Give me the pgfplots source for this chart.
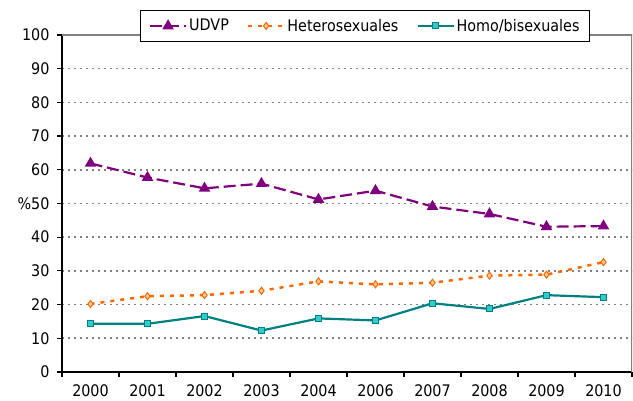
\documentclass[border=0pt]{standalone}
\usepackage{fontspec}
\setmainfont{DejaVu Sans Condensed}
\usepackage{pgfplots}
\pgfplotsset{compat=1.18}
\usetikzlibrary{calc}
\definecolor{udvp}{RGB}{128,0,128}
\definecolor{het}{RGB}{255,102,0}
\definecolor{hetfill}{RGB}{255,204,153}
\definecolor{homo}{RGB}{0,128,128}
\definecolor{homofill}{RGB}{51,204,204}
\definecolor{gridg}{RGB}{128,128,128}
\begin{document}
\begin{tikzpicture}
\begin{axis}[name=ax,
 scale only axis, width=570bp, height=337bp,
 font=\fontsize{16}{18}\selectfont,
 /pgf/number format/assume math mode=true,
 xmin=-0.5, xmax=9.5, ymin=0, ymax=100,
 xtick={-0.5,0.5,...,9.5}, xticklabels={},
 extra x ticks={0,1,2,3,4,5,6,7,8,9},
 extra x tick labels={2000,2001,2002,2003,2004,2006,2007,2008,2009,2010},
 extra x tick style={major tick length=0pt, xticklabel style={yshift=-9bp}},
 ytick={0,10,...,100}, yticklabels={0,10,20,30,40,\%50,60,70,80,90,100},
 yticklabel style={xshift=-4bp},
 axis x line*=bottom, axis y line*=left,
 axis line style={black, line width=1.2bp, -},
 tick style={black, line width=1.2bp},
 tick align=outside,
 major tick length=5bp,
 ymajorgrids=true,
 major grid style={gridg, line width=1.6bp, dash pattern=on 1.6bp off 4.4bp},
 legend style={at={(0.532,1.027)}, anchor=center, legend columns=3, draw=black, line width=1bp, fill=white,
   font=\fontsize{16}{18}\selectfont, inner xsep=8bp, inner ysep=6.5bp,
   /tikz/every even column/.append style={column sep=16bp}},
 legend image code/.code={\draw[mark repeat=2,mark phase=2] plot coordinates {(0bp,0bp)(18bp,0bp)(36bp,0bp)};},
]
\draw[gridg, line width=1.2bp] (rel axis cs:0,1) -- (rel axis cs:1,1) -- (rel axis cs:1,0);
\addplot[udvp, line width=2.2bp, dash pattern=on 12bp off 5bp, mark=triangle*, mark size=4.5bp, mark options={solid, fill=udvp}] coordinates {(0,61.9)(1,57.7)(2,54.5)(3,55.9)(4,51.2)(5,53.8)(6,49.1)(7,46.9)(8,43.1)(9,43.3)};
\addlegendentry{UDVP}
\addplot[het, line width=2.5bp, dash pattern=on 4bp off 6bp, mark=diamond*, mark size=3.5bp, mark options={solid, fill=hetfill, draw=het, line width=1bp}] coordinates {(0,20.2)(1,22.5)(2,22.8)(3,24.1)(4,26.9)(5,26.0)(6,26.5)(7,28.6)(8,28.9)(9,32.6)};
\addlegendentry{Heterosexuales}
\addplot[homo, line width=2.2bp, mark=square*, mark size=3bp, mark options={solid, fill=homofill, draw=homo, line width=1bp}] coordinates {(0,14.3)(1,14.3)(2,16.6)(3,12.3)(4,15.9)(5,15.3)(6,20.4)(7,18.7)(8,22.8)(9,22.2)};
\addlegendentry{Homo/bisexuales}
\end{axis}
\pgfresetboundingbox
\path ($(ax.south west)+(-62bp,-29bp)$) rectangle ($(ax.north east)+(1bp,35bp)$);
\end{tikzpicture}
\end{document}
